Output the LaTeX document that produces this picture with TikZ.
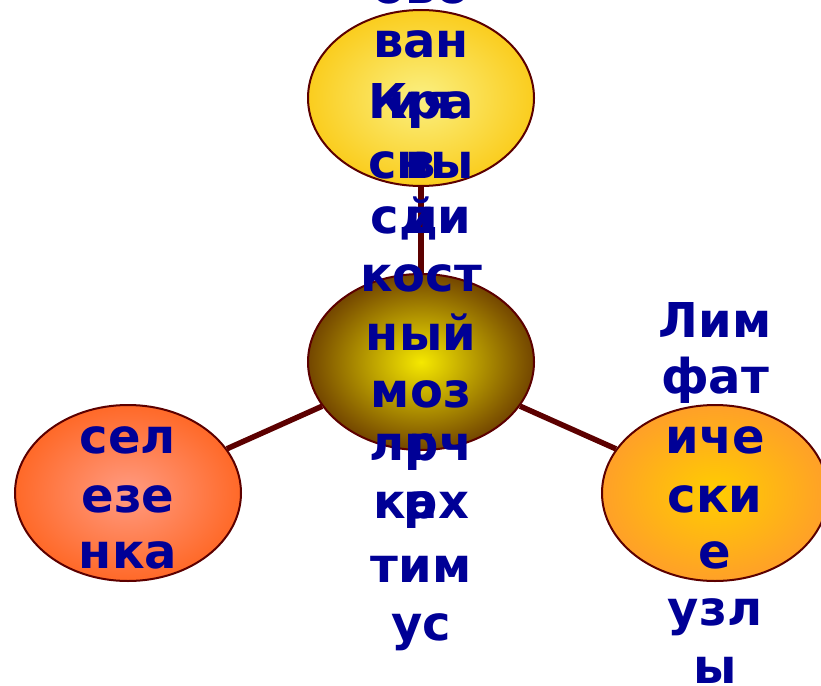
\documentclass[tikz,border=0pt]{standalone}
\usepackage{fontspec}
\newfontfamily\rufont{DejaVu Sans}
\usetikzlibrary{shapes.geometric, backgrounds}
\definecolor{rimred}{RGB}{92, 0, 0}
\definecolor{wordblue}{RGB}{0, 0, 150}

\tikzset{
  organ/.style={ellipse, draw=rimred, line width=2pt, minimum width=226pt, minimum height=176pt, shading=radial},
  word/.style={text=wordblue, font=\rufont\bfseries\fontsize{48}{57}\selectfont, anchor=base, inner sep=0pt},
  link/.style={draw=rimred, line width=5.5pt}
}

\begin{document}
\begin{tikzpicture}[x=1pt, y=-1pt]
    \useasboundingbox (0,0) rectangle (821,685);
    % the four organs
    \node[organ, inner color={rgb,255:red,250;green,240;blue,130}, outer color={rgb,255:red,250;green,205;blue,30}] (organs) at (421,98) {};
    \node[organ, inner color={rgb,255:red,245;green,232;blue,0}, outer color={rgb,255:red,115;green,70;blue,0}] (marrow) at (421,362) {};
    \node[organ, inner color={rgb,255:red,255;green,155;blue,130}, outer color={rgb,255:red,255;green,105;blue,40}] (spleen) at (128,493) {};
    \node[organ, inner color={rgb,255:red,255;green,205;blue,0}, outer color={rgb,255:red,255;green,160;blue,40}] (lymph) at (715,493) {};
    \begin{scope}[on background layer]
        \draw[link] (marrow) -- (organs);
        \draw[link] (marrow) -- (spleen);
        \draw[link] (marrow) -- (lymph);
    \end{scope}
    % words of the middle column
    \foreach \y/\s [count=\i] in {4/ово, 57/ван, 118/Кра, 118/ия, 178/сны, 178/в, 233/сди, 233/й, 291/кост, 350/ный, 407/моз, 460/лрч, 460/г, 518/ках, 518/р, 582/тим, 640/ус}
        \node[word] (mid\i) at (421,\y) {\s};
    % spleen
    \foreach \y/\s [count=\i] in {453/сел, 512/езе, 568/нка}
        \node[word] (sp\i) at (128,\y) {\s};
    % lymph nodes
    \foreach \y/\s [count=\i] in {337/Лим, 393/фат, 453/иче, 512/ски, 568/е, 625/узл, 683/ы}
        \node[word] (ly\i) at (715,\y) {\s};
\end{tikzpicture}
\end{document}
